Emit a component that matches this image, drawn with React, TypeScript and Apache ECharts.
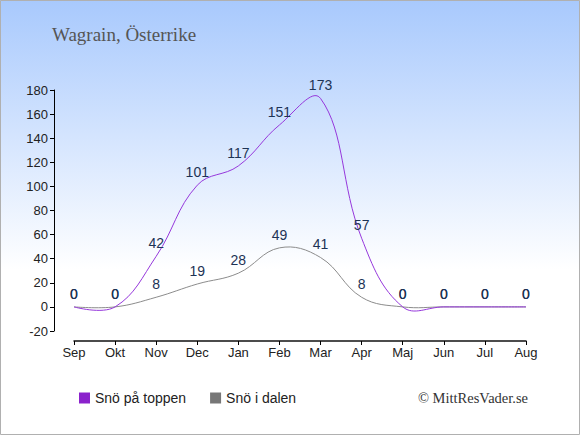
import React, { useEffect, useRef } from "react";
import * as echarts from "echarts";

const months = ["Sep", "Okt", "Nov", "Dec", "Jan", "Feb", "Mar", "Apr", "Maj", "Jun", "Jul", "Aug"];
const snowTop = [0, 0, 42, 101, 117, 151, 173, 57, 0, 0, 0, 0];
const snowValley = [0, 0, 8, 19, 28, 49, 41, 8, 0, 0, 0, 0];
const titleText = "Wagrain, Österrike";
const topName = "Snö på toppen";
const valleyName = "Snö i dalen";
const credit = "© MittResVader.se";

const topColor = "#8b22cc";
const topLine = "#9638dc";
const valleyColor = "#777777";
const valleyLine = "#8c8c8c";

function curveSeries(id: string, values: number[], stroke: string, z: number) {
  return {
    id,
    name: id,
    type: "custom",
    data: [[0, 0]],
    clip: false,
    silent: true,
    z,
    renderItem: (_params: any, api: any) => {
      const points = values.map((v, i) => api.coord([i, v]));
      return {
        type: "polyline",
        shape: { points, smooth: 0.4 },
        style: { stroke, fill: "none", lineWidth: 1 },
      };
    },
  };
}

export default function App() {
  const ref = useRef<HTMLDivElement>(null);
  useEffect(() => {
    if (!ref.current) return;
    const chart = echarts.init(ref.current, null, { renderer: "svg" });
    const labelStyle = {
      show: true,
      position: "top" as const,
      distance: 6,
      color: "#1d3355",
      fontSize: 14,
      fontFamily: "Liberation Sans, Arial, sans-serif",
    };
    chart.setOption({
      animation: false,
      backgroundColor: {
        type: "linear",
        x: 0,
        y: 0,
        x2: 0,
        y2: 1,
        colorStops: [
          { offset: 0, color: "#a8c9fd" },
          { offset: 0.62, color: "#ffffff" },
          { offset: 1, color: "#ffffff" },
        ],
      },
      grid: { left: 74, right: 54, top: 90, bottom: 104 },
      xAxis: {
        type: "category",
        data: months,
        boundaryGap: false,
        offset: 10,
        z: 10,
        axisLine: { show: true, onZero: false, lineStyle: { color: "#111111", width: 1.5 } },
        axisTick: { show: true, interval: 0, length: 4, lineStyle: { color: "#000" } },
        axisLabel: {
          interval: 0,
          color: "#222",
          fontSize: 13,
          margin: 5,
          fontFamily: "Liberation Sans, Arial, sans-serif",
        },
        splitLine: { show: false },
      },
      yAxis: {
        type: "value",
        min: -20,
        max: 180,
        interval: 20,
        offset: 20,
        axisLine: { show: true, lineStyle: { color: "#000", width: 1 } },
        axisTick: { show: true, length: 4, lineStyle: { color: "#000" } },
        axisLabel: {
          color: "#222",
          fontSize: 13,
          margin: 6,
          fontFamily: "Liberation Sans, Arial, sans-serif",
        },
        splitLine: { show: false },
      },
      legend: {
        left: 74,
        top: 386,
        itemWidth: 11,
        itemHeight: 11,
        itemGap: 24,
        icon: "rect",
        textStyle: {
          color: "#222",
          fontSize: 14,
          fontFamily: "Liberation Sans, Arial, sans-serif",
        },
        data: [topName, valleyName],
      },
      graphic: [
        {
          type: "rect",
          shape: { x: 0.5, y: 0.5, width: 579, height: 434 },
          style: { fill: "none", stroke: "#b0b0b0", lineWidth: 1 },
          silent: true,
        },
        {
          type: "text",
          left: 52,
          top: 25,
          style: {
            text: titleText,
            fill: "#555",
            fontSize: 19,
            fontFamily: "Liberation Serif, DejaVu Serif, serif",
          },
        },
        {
          type: "text",
          right: 52,
          top: 390,
          style: {
            text: credit,
            fill: "#333",
            fontSize: 14.5,
            fontFamily: "Liberation Serif, DejaVu Serif, serif",
          },
        },
      ],
      series: [
        curveSeries("valleyCurve", snowValley, valleyLine, 2),
        curveSeries("topCurve", snowTop, topLine, 3),
        {
          name: valleyName,
          type: "line",
          data: snowValley,
          symbol: "circle",
          symbolSize: 0,
          showSymbol: true,
          color: valleyColor,
          lineStyle: { opacity: 0 },
          label: labelStyle,
          z: 4,
        },
        {
          name: topName,
          type: "line",
          data: snowTop,
          symbol: "circle",
          symbolSize: 0,
          showSymbol: true,
          color: topColor,
          lineStyle: { opacity: 0 },
          label: labelStyle,
          z: 5,
        },
      ],
    });
    return () => chart.dispose();
  }, []);
  return (
    <div
      ref={ref}
      style={{ position: "fixed", left: 0, top: 0, width: 580, height: 435 }}
    />
  );
}
